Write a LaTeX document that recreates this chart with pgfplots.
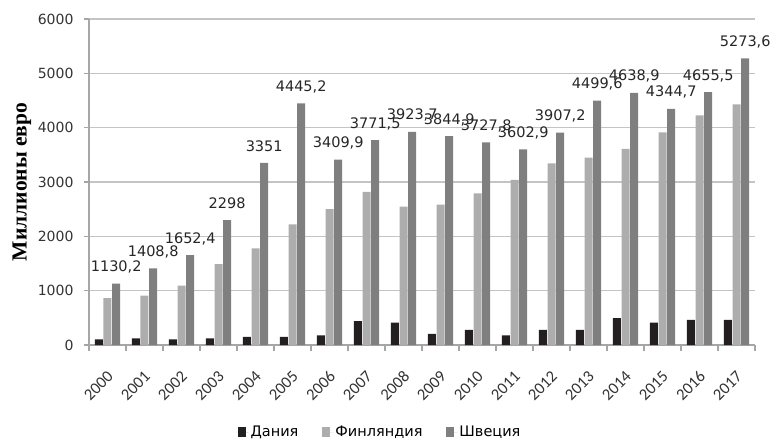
\documentclass[border=0pt]{standalone}
\usepackage{fontspec}
\setmainfont{DejaVu Sans}
\newfontfamily\carlito{Carlito}
\newfontfamily\serifb{Liberation Serif}
\usepackage{pgfplots}
\pgfplotsset{compat=1.18}
\definecolor{dk}{HTML}{231F20}
\definecolor{fi}{HTML}{ADADAD}
\definecolor{se}{HTML}{7F7F7F}
\definecolor{gridc}{HTML}{C4C4C4}
\definecolor{axc}{HTML}{A6A6A6}
\begin{document}
\begin{tikzpicture}
\begin{axis}[
  at={(0,0)}, anchor=south west,
  scale only axis, width=666pt, height=326pt,
  xmin=-0.5, xmax=17.5, ymin=0, ymax=6000,
  ybar=0.7pt, bar width=8pt,
  axis x line*=bottom, axis y line*=left,
  axis line style={draw=axc, line width=1.2pt, -},
  xtick={0,...,17},
  xticklabels={2000,2001,2002,2003,2004,2005,2006,2007,2008,2009,2010,2011,2012,2013,2014,2015,2016,2017},
  major x tick style={draw=none},
  minor xtick={-0.5,0.5,...,17.5},
  minor x tick style={draw=axc, line width=1.2pt},
  minor tick length=6pt,
  ytick={0,1000,...,6000},
  major tick length=5pt,
  y tick style={draw=axc, line width=1.2pt},
  tick align=outside,
  ymajorgrids, grid style={draw=gridc, line width=1.4pt},
  /pgf/number format/assume math mode=true,
  /pgf/number format/1000 sep={},
  yticklabel style={font=\fontsize{14}{15}\selectfont, text=black!80, xshift=-7pt},
  xticklabel style={font=\carlito\fontsize{16.5}{17}\selectfont, text=black!80, xshift=-1pt, yshift=-15pt, rotate=45, anchor=north east},
  ylabel={\serifb\bfseries Миллионы евро},
  ylabel style={font=\fontsize{21.5}{23}\selectfont, at={(axis description cs:0,0.5)}, anchor=center, yshift=67pt},
  legend style={at={(0.437,-0.267)}, anchor=center, legend columns=-1, draw=none, font=\fontsize{14.5}{15}\selectfont,
    /tikz/every even column/.append style={column sep=22pt}},
  legend image code/.code={\fill[#1] (0pt,-5pt) rectangle (8pt,5pt); \path (0pt,0pt) -- (11pt,0pt);},
]
\addplot[fill=dk, draw=none] coordinates {
(0,105) (1,124) (2,105) (3,124) (4,148) (5,148) (6,179) (7,438) (8,413)
(9,204) (10,278) (11,179) (12,278) (13,278) (14,494) (15,413) (16,463) (17,463)};
\addplot[fill=fi, draw=none] coordinates {
(0,864) (1,907) (2,1093) (3,1487) (4,1778) (5,2222) (6,2500) (7,2820) (8,2549)
(9,2586) (10,2790) (11,3040) (12,3344) (13,3448) (14,3608) (15,3915) (16,4228) (17,4431)};
\addplot[fill=se, draw=none,
  nodes near coords,
  nodes near coords style={font=\fontsize{14.5}{15}\selectfont, text=black!85, anchor=center, yshift=16.5pt,
    /pgf/number format/.cd, use comma, 1000 sep={}, precision=1, assume math mode=true}] coordinates {
(0,1130.2) (1,1408.8) (2,1652.4) (3,2298) (4,3351) (5,4445.2) (6,3409.9) (7,3771.5) (8,3923.7)
(9,3844.9) (10,3727.8) (11,3602.9) (12,3907.2) (13,4499.6) (14,4638.9) (15,4344.7) (16,4655.5) (17,5273.6)};
\legend{Дания,Финляндия,Швеция}
\end{axis}
\pgfresetboundingbox
\path[use as bounding box] (-89pt,-95pt) rectangle (684pt,345pt);
\end{tikzpicture}
\end{document}
